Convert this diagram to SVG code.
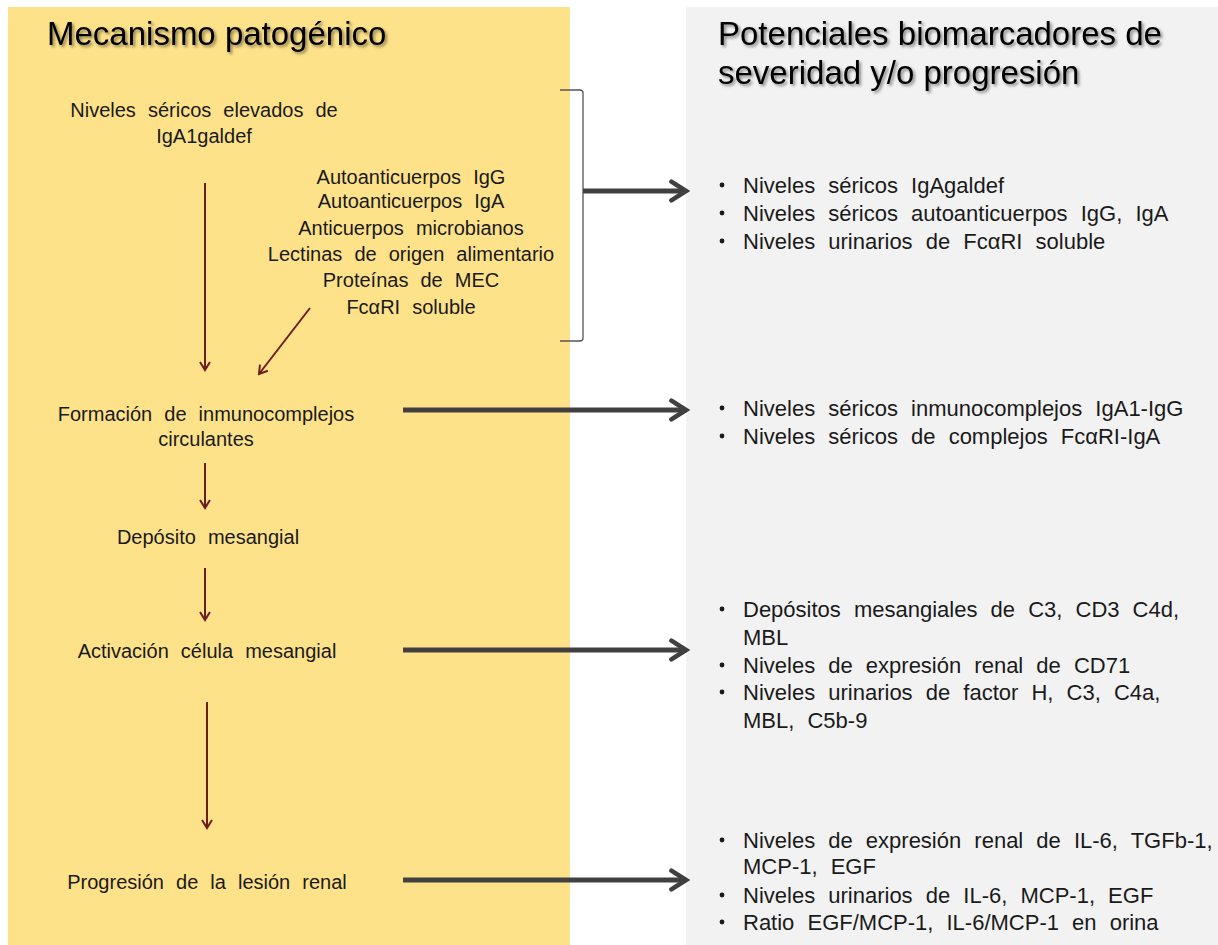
<svg xmlns="http://www.w3.org/2000/svg" width="1218" height="945" viewBox="0 0 1218 945">
<defs>
<style>
.t{font-family:"Liberation Sans",Arial,sans-serif;font-size:20px;fill:#1a1a1a;text-anchor:middle;word-spacing:6.5px}
.r{font-family:"Liberation Sans",Arial,sans-serif;font-size:22px;fill:#1a1a1a;word-spacing:7px}
.h{font-family:"Liberation Sans",Arial,sans-serif;font-size:33px;fill:#000;filter:url(#sh)}
.bu{fill:#1a1a1a}
.br{stroke:#6b1f22;stroke-width:2;fill:none;marker-end:url(#mb)}
.gr{stroke:#404040;stroke-width:5;fill:none;marker-end:url(#mg)}
</style>
<filter id="sh" x="-5%" y="-20%" width="110%" height="150%">
<feDropShadow dx="2" dy="2" stdDeviation="1.5" flood-color="#000" flood-opacity="0.45"/>
</filter>
<marker id="mb" viewBox="0 0 12 12" refX="10" refY="6" markerWidth="6" markerHeight="6" orient="auto" markerUnits="strokeWidth">
<path d="M2,1 L10,6 L2,11" fill="none" stroke="#6b1f22" stroke-width="2"/>
</marker>
<marker id="mg" viewBox="0 0 12 12" refX="10" refY="6" markerWidth="5" markerHeight="5" orient="auto" markerUnits="strokeWidth">
<path d="M3,1.5 L10,6 L3,10.5" fill="none" stroke="#404040" stroke-width="2.2" stroke-linecap="round"/>
</marker>
</defs>
<rect x="0" y="0" width="1218" height="945" fill="#fff"/>
<g id="panel-left"><rect x="8" y="7" width="562" height="938" fill="#fee28a"/></g>
<g id="panel-right"><rect x="686" y="7" width="532" height="938" fill="#f2f2f2"/></g>
<g id="titles">
<text class="h" x="47" y="45">Mecanismo patogénico</text>
<text class="h" x="718" y="45">Potenciales biomarcadores de</text>
<text class="h" x="718" y="84">severidad y/o progresión</text>
</g>
<g id="n-iga">
<text class="t" x="204" y="117">Niveles séricos elevados de</text>
<text class="t" x="204" y="143">IgA1galdef</text>
</g>
<g id="n-factors">
<text class="t" x="411" y="184">Autoanticuerpos IgG</text>
<text class="t" x="411" y="208">Autoanticuerpos IgA</text>
<text class="t" x="411" y="235">Anticuerpos microbianos</text>
<text class="t" x="411" y="261">Lectinas de origen alimentario</text>
<text class="t" x="411" y="287">Proteínas de MEC</text>
<text class="t" x="411" y="314">FcαRI soluble</text>
</g>
<g id="n-formacion">
<text class="t" x="206" y="421">Formación de inmunocomplejos</text>
<text class="t" x="206" y="446">circulantes</text>
</g>
<g id="n-deposito"><text class="t" x="208" y="544">Depósito mesangial</text></g>
<g id="n-activacion"><text class="t" x="207" y="658">Activación célula mesangial</text></g>
<g id="n-progresion"><text class="t" x="207" y="889">Progresión de la lesión renal</text></g>
<g id="b1">
<circle class="bu" cx="722" cy="185" r="2.4"/><text class="r" x="743" y="193">Niveles séricos IgAgaldef</text>
<circle class="bu" cx="722" cy="213" r="2.4"/><text class="r" x="743" y="221">Niveles séricos autoanticuerpos IgG, IgA</text>
<circle class="bu" cx="722" cy="241" r="2.4"/><text class="r" x="743" y="249">Niveles urinarios de FcαRI soluble</text>
</g>
<g id="b2">
<circle class="bu" cx="722" cy="408" r="2.4"/><text class="r" x="743" y="416">Niveles séricos inmunocomplejos IgA1-IgG</text>
<circle class="bu" cx="722" cy="436" r="2.4"/><text class="r" x="743" y="444">Niveles séricos de complejos FcαRI-IgA</text>
</g>
<g id="b3">
<circle class="bu" cx="722" cy="609" r="2.4"/><text class="r" x="743" y="617">Depósitos mesangiales de C3, CD3 C4d,</text>
<text class="r" x="743" y="645">MBL</text>
<circle class="bu" cx="722" cy="665" r="2.4"/><text class="r" x="743" y="673">Niveles de expresión renal de CD71</text>
<circle class="bu" cx="722" cy="692" r="2.4"/><text class="r" x="743" y="700">Niveles urinarios de factor H, C3, C4a,</text>
<text class="r" x="743" y="728">MBL, C5b-9</text>
</g>
<g id="b4">
<circle class="bu" cx="722" cy="840" r="2.4"/><text class="r" x="743" y="848">Niveles de expresión renal de IL-6, TGFb-1,</text>
<text class="r" x="743" y="874">MCP-1, EGF</text>
<circle class="bu" cx="722" cy="895" r="2.4"/><text class="r" x="743" y="903">Niveles urinarios de IL-6, MCP-1, EGF</text>
<circle class="bu" cx="722" cy="922" r="2.4"/><text class="r" x="743" y="930">Ratio EGF/MCP-1, IL-6/MCP-1 en orina</text>
</g>
<g id="connectors">
<path d="M560,90 L580,90 Q583,90 583,93 L583,338 Q583,341 580,341 L560,341" fill="none" stroke="#555" stroke-width="1.3"/>
<line class="br" x1="205" y1="183" x2="205" y2="370"/>
<line class="br" x1="310" y1="308" x2="259" y2="374"/>
<line class="br" x1="205" y1="463" x2="205" y2="508"/>
<line class="br" x1="205" y1="568" x2="205" y2="620"/>
<line class="br" x1="207" y1="702" x2="207" y2="828"/>
<line class="gr" x1="583" y1="191" x2="686" y2="191"/>
<line class="gr" x1="403" y1="410" x2="686" y2="410"/>
<line class="gr" x1="403" y1="650" x2="686" y2="650"/>
<line class="gr" x1="403" y1="880" x2="686" y2="880"/>
</g>
</svg>
